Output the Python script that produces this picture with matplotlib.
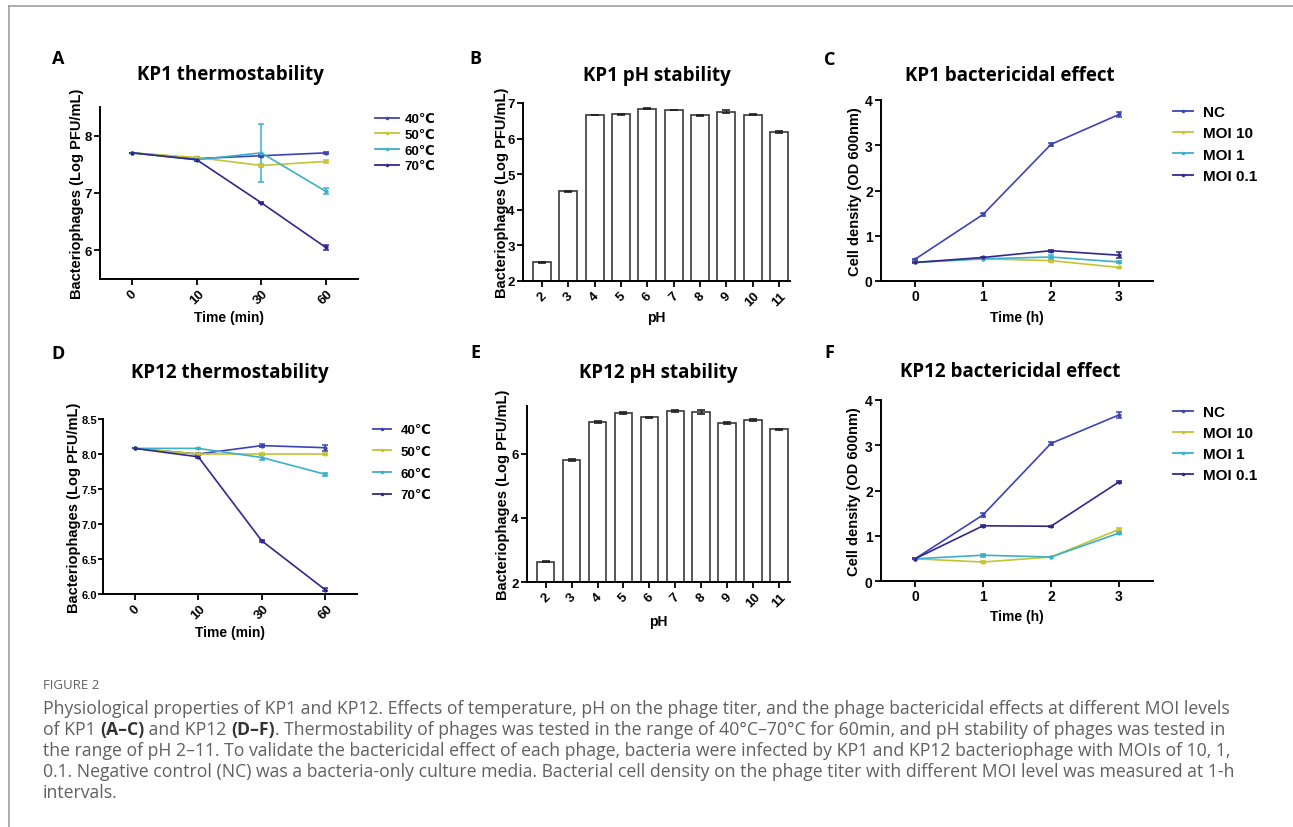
import matplotlib
matplotlib.use('Agg')
import matplotlib.pyplot as plt
from matplotlib.lines import Line2D

# Data
time_min = ['0', '10', '30', '60']
temp_labels = ['40℃', '50℃', '60℃', '70℃']

kp1_t40 = [7.70, 7.60, 7.65, 7.70]
kp1_t50 = [7.70, 7.62, 7.48, 7.55]
kp1_t60 = [7.70, 7.58, 7.70, 7.03]
kp1_t70 = [7.70, 7.58, 6.83, 6.05]
kp1_t40_err = [0.0, 0.02, 0.02, 0.02]
kp1_t50_err = [0.0, 0.01, 0.02, 0.02]
kp1_t60_err = [0.0, 0.02, 0.50, 0.05]
kp1_t70_err = [0.0, 0.02, 0.01, 0.04]

kp12_t40 = [8.08, 8.00, 8.12, 8.09]
kp12_t50 = [8.08, 8.00, 8.00, 8.00]
kp12_t60 = [8.08, 8.08, 7.95, 7.71]
kp12_t70 = [8.08, 7.96, 6.76, 6.06]
kp12_t40_err = [0.0, 0.02, 0.02, 0.04]
kp12_t50_err = [0.0, 0.01, 0.02, 0.01]
kp12_t60_err = [0.0, 0.01, 0.04, 0.02]
kp12_t70_err = [0.0, 0.02, 0.01, 0.02]

ph_values = ['2', '3', '4', '5', '6', '7', '8', '9', '10', '11']
kp1_ph = [2.52, 4.52, 6.66, 6.68, 6.84, 6.80, 6.65, 6.76, 6.67, 6.18]
kp1_ph_err = [0.02, 0.01, 0.01, 0.01, 0.01, 0.01, 0.01, 0.03, 0.01, 0.02]
kp12_ph = [2.64, 5.81, 7.00, 7.28, 7.15, 7.34, 7.31, 6.97, 7.06, 6.77]
kp12_ph_err = [0.02, 0.02, 0.03, 0.04, 0.02, 0.03, 0.05, 0.03, 0.04, 0.02]

hours = [0, 1, 2, 3]
moi_labels = ['NC', 'MOI 10', 'MOI 1', 'MOI 0.1']

kp1_nc = [0.48, 1.47, 3.02, 3.68]
kp1_moi10 = [0.41, 0.49, 0.45, 0.30]
kp1_moi1 = [0.41, 0.49, 0.53, 0.42]
kp1_moi01 = [0.41, 0.52, 0.67, 0.57]
kp1_nc_err = [0.01, 0.03, 0.03, 0.05]
kp1_moi10_err = [0.01, 0.01, 0.02, 0.02]
kp1_moi1_err = [0.01, 0.01, 0.04, 0.03]
kp1_moi01_err = [0.01, 0.02, 0.02, 0.06]

kp12_nc = [0.49, 1.46, 3.04, 3.67]
kp12_moi10 = [0.49, 0.42, 0.53, 1.14]
kp12_moi1 = [0.49, 0.57, 0.53, 1.06]
kp12_moi01 = [0.49, 1.22, 1.21, 2.19]
kp12_nc_err = [0.01, 0.04, 0.03, 0.06]
kp12_moi10_err = [0.01, 0.03, 0.01, 0.04]
kp12_moi1_err = [0.01, 0.03, 0.01, 0.02]
kp12_moi01_err = [0.01, 0.02, 0.01, 0.03]

caption_head = 'FIGURE 2'
caption_lines = [
    [('Physiological properties of KP1 and KP12. Effects of temperature, pH on the phage titer, and the phage bactericidal effects at different MOI levels', False)],
    [('of KP1 ', False), ('(A\u2013C)', True), (' and KP12 ', False), ('(D\u2013F)', True),
     ('. Thermostability of phages was tested in the range of 40\u00b0C\u201370\u00b0C for 60min, and pH stability of phages was tested in', False)],
    [('the range of pH 2\u201311. To validate the bactericidal effect of each phage, bacteria were infected by KP1 and KP12 bacteriophage with MOIs of 10, 1,', False)],
    [('0.1. Negative control (NC) was a bacteria-only culture media. Bacterial cell density on the phage titer with different MOI level was measured at 1-h', False)],
    [('intervals.', False)],
]

# Colors
c_blue = '#3c44b4'
c_yellow = '#c4c434'
c_cyan = '#3cb0c8'
c_navy = '#30288e'
series_colors = [c_blue, c_yellow, c_cyan, c_navy]

W, H = 1293, 828
AX_FONT = ['Liberation Sans', 'DejaVu Sans']
TITLE_FONT = ['Open Sans', 'DejaVu Sans']

plt.rcParams['font.family'] = AX_FONT
plt.rcParams['font.weight'] = 'bold'

fig = plt.figure(figsize=(W / 100, H / 100), dpi=100)
fig.patch.set_facecolor('white')


def px_axes(left, top, right, bottom):
    return fig.add_axes([left / W, 1 - bottom / H, (right - left) / W, (bottom - top) / H])


def style_axes(ax):
    for s in ['top', 'right']:
        ax.spines[s].set_visible(False)
    for s in ['left', 'bottom']:
        ax.spines[s].set_linewidth(1.4)
    ax.tick_params(width=1.3, length=4, labelsize=9.5, pad=2)


def set_labels(ax, box, xlabel, ylabel, xlab_y, ylab_x, fs=10.5):
    left, top, right, bottom = box
    ax.set_xlabel(xlabel, fontsize=10, fontweight='bold')
    ax.set_ylabel(ylabel, fontsize=fs, fontweight='bold')
    ax.xaxis.label.set_va('center')
    ax.yaxis.label.set_va('center')
    ax.xaxis.set_label_coords(0.5, (bottom - xlab_y) / (bottom - top))
    ax.yaxis.set_label_coords((ylab_x - left) / (right - left), 0.5)


def line_panel(ax, xt, series, errs, labels, ylim, yticks, yfmt, rot):
    x = list(range(len(xt)))
    for ys, es, c, lab in zip(series, errs, series_colors, labels):
        ax.errorbar(x, ys, yerr=es, color=c, lw=1.2, marker='.', ms=4,
                    capsize=2, elinewidth=1.1, capthick=1.1, label=lab)
    ax.set_xlim(-0.5, len(xt) - 0.5)
    ax.set_ylim(*ylim)
    ax.set_xticks(x)
    if rot:
        ax.set_xticklabels(xt, rotation=45, ha='center', va='top')
    else:
        ax.set_xticklabels(xt)
    ax.set_yticks(yticks)
    ax.set_yticklabels([yfmt % v for v in yticks])
    style_axes(ax)


def bar_panel(ax, vals, errs, ylim, yticks):
    x = list(range(len(ph_values)))
    ax.bar(x, vals, width=0.68, color='white', edgecolor='#3a3a3a', lw=1.2,
           yerr=errs, error_kw=dict(ecolor='#222222', capsize=3, elinewidth=1, capthick=1.2))
    ax.set_xlim(-0.72, 9.42)
    ax.set_ylim(*ylim)
    ax.set_xticks(x)
    ax.set_xticklabels(ph_values, rotation=45, ha='center', va='top')
    ax.set_yticks(yticks)
    style_axes(ax)


def add_legend(ax, labels, top_px, left_px, fs, spacing, hlen, pad):
    handles = [Line2D([], [], color=c, lw=1.3, marker='.', ms=3) for c in series_colors]
    ax.legend(handles, labels, loc='upper left', bbox_to_anchor=(left_px / W, 1 - top_px / H),
              bbox_transform=fig.transFigure, frameon=False, borderpad=0, borderaxespad=0,
              handlelength=hlen, handletextpad=pad, labelspacing=spacing,
              prop={'family': AX_FONT, 'weight': 'bold', 'size': fs})


# Panel A
box_a = (100, 108, 358, 280)
ax_a = px_axes(*box_a)
line_panel(ax_a, time_min, [kp1_t40, kp1_t50, kp1_t60, kp1_t70],
           [kp1_t40_err, kp1_t50_err, kp1_t60_err, kp1_t70_err], temp_labels,
           (5.5, 8.5), [6, 7, 8], '%d', True)
set_labels(ax_a, box_a, 'Time (min)', 'Bacteriophages (Log PFU/mL)', 318, 77)
add_legend(ax_a, temp_labels, 114, 375, 9.5, 0.26, 1.8, 0.45)

# Panel B
box_b = (523, 104, 790, 282)
ax_b = px_axes(*box_b)
bar_panel(ax_b, kp1_ph, kp1_ph_err, (2, 7), [2, 3, 4, 5, 6, 7])
set_labels(ax_b, box_b, 'pH', 'Bacteriophages (Log PFU/mL)', 318, 502)

# Panel C
box_c = (881, 101, 1153, 282)
ax_c = px_axes(*box_c)
line_panel(ax_c, [str(h) for h in hours], [kp1_nc, kp1_moi10, kp1_moi1, kp1_moi01],
           [kp1_nc_err, kp1_moi10_err, kp1_moi1_err, kp1_moi01_err], moi_labels,
           (0, 4), [0, 1, 2, 3, 4], '%d', False)
ax_c.tick_params(labelsize=10)
set_labels(ax_c, box_c, 'Time (h)', 'Cell density (OD 600nm)', 318, 855)
add_legend(ax_c, moi_labels, 106, 1173, 11, 0.48, 1.3, 0.65)

# Panel D
box_d = (103, 420, 357, 595)
ax_d = px_axes(*box_d)
line_panel(ax_d, time_min, [kp12_t40, kp12_t50, kp12_t60, kp12_t70],
           [kp12_t40_err, kp12_t50_err, kp12_t60_err, kp12_t70_err], temp_labels,
           (6.0, 8.5), [6.0, 6.5, 7.0, 7.5, 8.0, 8.5], '%.1f', True)
ax_d.tick_params(axis='y', labelsize=8, pad=1, length=3.5)
set_labels(ax_d, box_d, 'Time (min)', 'Bacteriophages (Log PFU/mL)', 633, 74)
add_legend(ax_d, temp_labels, 425, 373, 9.5, 0.72, 1.4, 0.7)

# Panel E
box_e = (527, 407, 790, 583)
ax_e = px_axes(*box_e)
bar_panel(ax_e, kp12_ph, kp12_ph_err, (2, 7.5), [2, 4, 6])
set_labels(ax_e, box_e, 'pH', 'Bacteriophages (Log PFU/mL)', 622, 503)

# Panel F
box_f = (881, 401, 1153, 582)
ax_f = px_axes(*box_f)
line_panel(ax_f, [str(h) for h in hours], [kp12_nc, kp12_moi10, kp12_moi1, kp12_moi01],
           [kp12_nc_err, kp12_moi10_err, kp12_moi1_err, kp12_moi01_err], moi_labels,
           (0, 4), [0, 1, 2, 3, 4], '%d', False)
ax_f.tick_params(labelsize=10)
set_labels(ax_f, box_f, 'Time (h)', 'Cell density (OD 600nm)', 617, 854)
add_legend(ax_f, moi_labels, 406, 1173, 11, 0.46, 1.3, 0.65)

# Titles and panel letters
titles = [('KP1 thermostability', 230, 75), ('KP1 pH stability', 657, 76),
          ('KP1 bactericidal effect', 1010, 76), ('KP12 thermostability', 230, 373),
          ('KP12 pH stability', 658, 373), ('KP12 bactericidal effect', 1010, 372)]
for txt, x, y in titles:
    fig.text(x / W, 1 - y / H, txt, ha='center', va='center', fontsize=13.5,
             fontweight='bold', family=TITLE_FONT)

letters = [('A', 58, 59), ('B', 475, 59), ('C', 830, 60),
           ('D', 58, 354), ('E', 475, 353), ('F', 829, 353)]
for txt, x, y in letters:
    fig.text(x / W, 1 - y / H, txt, ha='center', va='center', fontsize=13,
             fontweight='bold', family=['Open Sans', 'DejaVu Sans'])

# Frame lines
fig.add_artist(Line2D([9 / W, 1], [1 - 7 / H, 1 - 7 / H], color='#a0a0a0', lw=1.2))
fig.add_artist(Line2D([9 / W, 9 / W], [1 - 7 / H, 0], color='#a0a0a0', lw=1.2))

# Caption
fig.text(43 / W, 1 - 686 / H, caption_head, ha='left', va='center', fontsize=9.5,
         color='#606060', family=['Open Sans', 'DejaVu Sans'], fontweight='normal')

renderer = fig.canvas.get_renderer()
line_y = [709, 730, 751, 772, 793]
for segs, y in zip(caption_lines, line_y):
    x = 43 / W
    for s, bold in segs:
        t = fig.text(x, 1 - y / H, s, ha='left', va='center', fontsize=12.7,
                     family=['Open Sans', 'DejaVu Sans'],
                     fontweight='bold' if bold else 'normal',
                     color='#333333' if bold else '#606060')
        bb = t.get_window_extent(renderer)
        x = bb.x1 / W

fig.savefig('out.png', dpi=100)
